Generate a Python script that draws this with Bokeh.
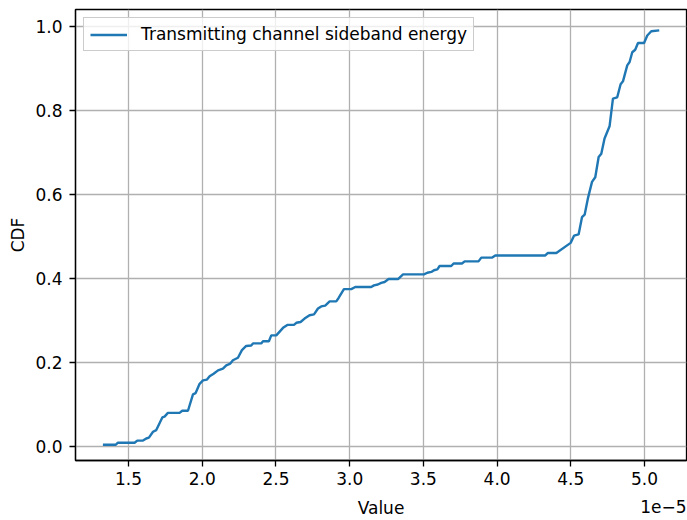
from bokeh.plotting import figure
from bokeh.models import Range1d, FixedTicker, PrintfTickFormatter, Label, Legend, LegendItem
from bokeh.embed import file_html
from bokeh.resources import INLINE

# Data (x values in units of 1e-5)
value_e5 = [1.326, 1.412, 1.428, 1.541, 1.559, 1.598, 1.620, 1.638, 1.666, 1.688,
            1.729, 1.744, 1.767, 1.846, 1.864, 1.903, 1.937, 1.955, 1.982, 2.005,
            2.032, 2.050, 2.077, 2.107, 2.140, 2.163, 2.190, 2.208, 2.242, 2.269,
            2.298, 2.332, 2.344, 2.400, 2.412, 2.452, 2.468, 2.502, 2.548, 2.577,
            2.622, 2.638, 2.667, 2.694, 2.728, 2.758, 2.785, 2.807, 2.834, 2.864,
            2.909, 2.925, 2.961, 3.011, 3.038, 3.146, 3.165, 3.191, 3.214, 3.237,
            3.264, 3.328, 3.362, 3.504, 3.527, 3.554, 3.572, 3.595, 3.610, 3.689,
            3.705, 3.762, 3.780, 3.874, 3.893, 3.967, 3.988, 4.327, 4.345, 4.402,
            4.499, 4.522, 4.553, 4.576, 4.594, 4.617, 4.644, 4.666, 4.689, 4.707,
            4.729, 4.763, 4.786, 4.815, 4.838, 4.854, 4.883, 4.899, 4.917, 4.937,
            4.956, 4.997, 5.019, 5.046, 5.100]
cdf = [0.005, 0.005, 0.010, 0.010, 0.015, 0.015, 0.020, 0.022, 0.036, 0.040,
       0.070, 0.072, 0.081, 0.081, 0.086, 0.086, 0.125, 0.128, 0.150, 0.158,
       0.160, 0.168, 0.174, 0.182, 0.186, 0.194, 0.198, 0.206, 0.212, 0.230,
       0.240, 0.241, 0.246, 0.246, 0.251, 0.251, 0.265, 0.265, 0.283, 0.290,
       0.290, 0.295, 0.297, 0.305, 0.313, 0.315, 0.329, 0.334, 0.336, 0.346,
       0.346, 0.354, 0.375, 0.375, 0.380, 0.380, 0.384, 0.386, 0.390, 0.392,
       0.399, 0.399, 0.410, 0.410, 0.414, 0.416, 0.420, 0.422, 0.430, 0.430,
       0.436, 0.436, 0.441, 0.441, 0.450, 0.450, 0.455, 0.455, 0.461, 0.461,
       0.485, 0.502, 0.505, 0.546, 0.552, 0.592, 0.630, 0.641, 0.689, 0.697,
       0.733, 0.762, 0.828, 0.831, 0.862, 0.869, 0.907, 0.915, 0.938, 0.944,
       0.960, 0.960, 0.978, 0.988, 0.990]
x_ticks = [1.5, 2.0, 2.5, 3.0, 3.5, 4.0, 4.5, 5.0]
y_ticks = [0.0, 0.2, 0.4, 0.6, 0.8, 1.0]
series_name = "Transmitting channel sideband energy"
x_label = "Value"
y_label = "CDF"
offset_text = "1e\u22125"

FONT = "DejaVu Sans"
FS = "17px"
X0, X1 = 1.14, 5.285
Y0, Y1 = -0.0323, 1.0397
PPU = 421.0      # pixels per y unit
Y_ZERO_PX = 446.7

p = figure(width=687, height=520, output_backend="svg", toolbar_location=None,
           x_range=Range1d(X0, X1), y_range=Range1d(Y0, Y1),
           min_border_left=75, min_border_right=1, min_border_top=9, min_border_bottom=55)
p.background_fill_color = "white"
p.border_fill_color = "white"
p.outline_line_color = "black"
p.outline_line_width = 1.3

line = p.line(value_e5, cdf, line_color="#1f77b4", line_width=2.4)

for ax, ticks in ((p.xaxis[0], x_ticks), (p.yaxis[0], y_ticks)):
    ax.ticker = FixedTicker(ticks=ticks)
    ax.formatter = PrintfTickFormatter(format="%.1f")
    ax.major_tick_out = 6
    ax.major_tick_in = 0
    ax.minor_tick_out = 0
    ax.minor_tick_in = 0
    ax.axis_line_color = "black"
    ax.axis_line_width = 1.3
    ax.major_tick_line_width = 1.3
    ax.major_label_text_font = FONT
    ax.major_label_text_font_size = FS
    ax.major_label_text_color = "black"
    ax.axis_label_text_font = FONT
    ax.axis_label_text_font_size = FS
    ax.axis_label_text_font_style = "normal"
    ax.axis_label_text_color = "black"

p.yaxis.axis_label = y_label
p.xaxis.major_label_standoff = 5
p.yaxis.major_label_standoff = 7
p.yaxis.axis_label_standoff = 4

p.grid.grid_line_color = "#b0b0b0"
p.grid.grid_line_width = 1.3

legend = Legend(items=[LegendItem(label=series_name, renderers=[line])],
                location="top_left", margin=8, padding=6,
                glyph_width=37, glyph_height=19, label_height=19,
                label_standoff=14, spacing=0,
                label_text_font=FONT, label_text_font_size=FS,
                label_text_color="black",
                border_line_color="#cccccc", border_line_alpha=1.0,
                border_line_width=1.0,
                background_fill_color="white", background_fill_alpha=0.8)
p.add_layout(legend)

# x-axis title and offset text, kept in side panels below the axis (not clipped)
p.add_layout(Label(x=(X0 + X1) / 2, y=-(507.4 - Y_ZERO_PX) / PPU,
                   text=x_label, text_align="center",
                   text_baseline="middle", text_font=FONT, text_font_size=FS,
                   text_color="black"), "below")
p.add_layout(Label(x=X1, y=-(506.1 - Y_ZERO_PX) / PPU,
                   text=offset_text, text_align="right",
                   text_baseline="middle", text_font=FONT, text_font_size=FS,
                   text_color="black"), "below")

open("out.html", "w").write(file_html(p, INLINE))
